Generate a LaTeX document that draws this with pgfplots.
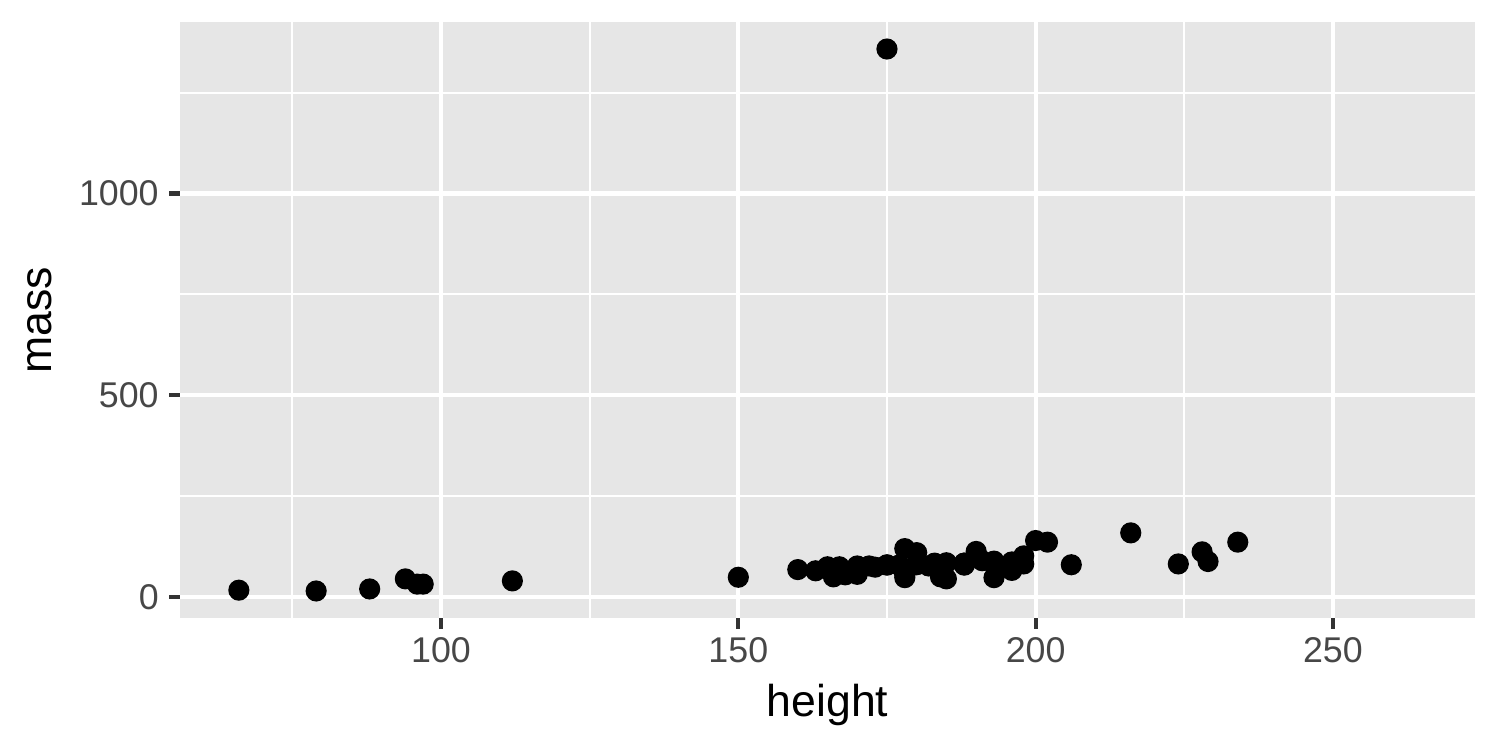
\documentclass[border=0pt]{standalone}
\usepackage{fontspec}
\setmainfont{Liberation Sans}
\usepackage{pgfplots}
\pgfplotsset{compat=1.18}
\definecolor{panelbg}{HTML}{E6E6E6}
\definecolor{ticklab}{HTML}{474747}
\definecolor{tickcol}{HTML}{333333}
\begin{document}
\begin{tikzpicture}
\begin{axis}[
  scale only axis,
  width=336.7pt, height=155pt,
  at={(0,0)}, anchor=south west,
  xmin=56.1, xmax=273.9, ymin=-52.15, ymax=1425.15,
  xtick={100,150,200,250}, ytick={0,500,1000},
  minor xtick={75,125,175,225}, minor ytick={250,750,1250},
  grid=both,
  major grid style={white, line width=1.07pt},
  minor grid style={white, line width=0.53pt},
  axis line style={draw=none},
  axis background/.style={fill=panelbg},
  tick align=outside,
  major tick length=2.75pt, minor tick length=0pt,
  tick style={tickcol, line width=1.07pt},
  xtick pos=bottom, ytick pos=left,
  /pgf/number format/assume math mode=true,
  /pgf/number format/1000 sep={},
  ticklabel style={font=\fontsize{9.3}{11}\selectfont, text=ticklab},
  xticklabel style={inner sep=0pt, anchor=north, yshift=-2.0pt},
  yticklabel style={inner sep=0pt, anchor=east, xshift=-2.6pt},
  xlabel={height}, ylabel={mass},
  every axis x label/.style={at={([yshift=-25.7pt]rel axis cs:0.5,0)}, anchor=base, font=\fontsize{11.6}{14}\selectfont},
  every axis y label/.style={at={([xshift=-33.4pt]rel axis cs:0,0.5)}, anchor=base, rotate=90, font=\fontsize{11.6}{14}\selectfont},
  clip=false,
]
\addplot[only marks, mark=*, mark size=2.55pt, mark options={fill=black, draw=black}] table {
x y
172 77
167 75
96 32
202 136
150 49
178 120
165 75
97 32
183 84
182 77
188 84
228 112
180 80
173 74
175 1358
170 77
180 110
66 17
170 75
183 78.2
200 140
190 113
177 79
175 79
180 83
88 20
160 68
193 89
191 90
185 45
196 66
224 82
112 40
175 80
178 55
79 15
94 45
163 65
188 84
198 82
196 87
184 50
188 80
185 85
183 80
170 56.2
166 50
193 80
183 79
168 55
198 102
229 88
193 48
178 57
216 159
234 136
188 79
178 48
206 80
};
\end{axis}
\path (-46.8pt,-34.3pt) rectangle (343.2pt,160.7pt);
\end{tikzpicture}
\end{document}
